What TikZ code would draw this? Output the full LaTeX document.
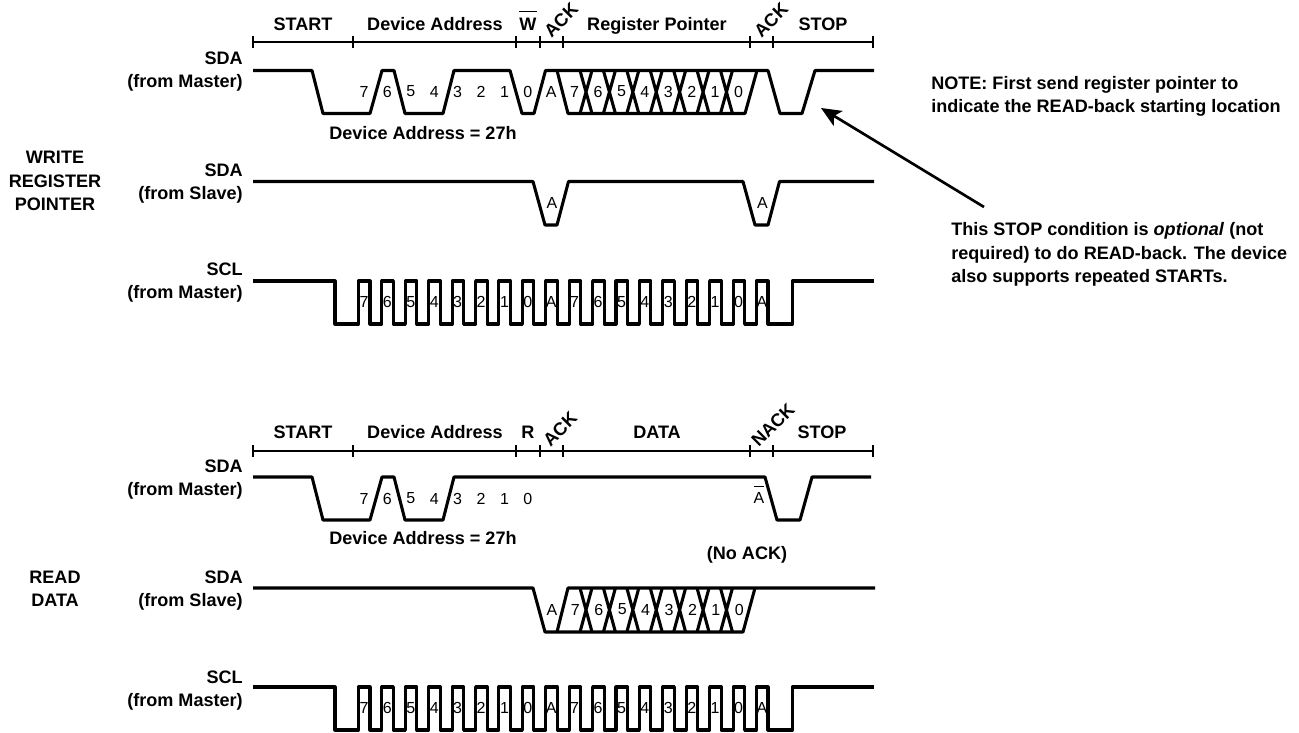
\documentclass[tikz,border=0pt]{standalone}
\usepackage{fontspec}
\setmainfont{Liberation Sans}
\usetikzlibrary{arrows.meta}
\tikzset{
  sig/.style={line width=2.3pt, line join=round},
  rule/.style={line width=1pt},
  lbl/.style={inner sep=0pt, font=\bfseries\fontsize{13.55}{17.5}\selectfont},
  fld/.style={lbl, anchor=base},
  bit/.style={inner sep=0pt, font=\fontsize{12}{14}\selectfont},
  pointer/.style={line width=2pt, -{Stealth[length=15pt,width=13pt,inset=3.5pt]}}
}
\begin{document}
\begin{tikzpicture}[x=0.75pt, y=-0.75pt]
  \useasboundingbox (0,0) rectangle (1299,732);

  % Ejes de los campos
  \foreach \y in {42,451} {
    \draw[rule] (253,\y) -- (873,\y);
    \foreach \x in {253,353,516,540,563,750,773,873}
      \draw[rule] (\x,{\y-6}) -- (\x,{\y+6});
  }

  % Campos superiores
  \node[fld] (wstart) at (303,30) {START};
  \node[fld] (waddr) at (435,30) {Device Address};
  \node[fld] (wbit) at (528,30) {$\overline{\rule{0pt}{13pt}\hbox{W}}$};
  \node[lbl, rotate=45] (wack) at (561,20) {ACK};
  \node[fld] (wreg) at (657,30) {Register Pointer};
  \node[lbl, rotate=45] (wack2) at (771,20) {ACK};
  \node[fld] (wstop) at (823,30) {STOP};

  % Campos inferiores
  \node[fld] (rstart) at (303,438) {START};
  \node[fld] (raddr) at (435,438) {Device Address};
  \node[fld] (rbit) at (528,438) {R};
  \node[lbl, rotate=45] (rack) at (560,429) {ACK};
  \node[fld] (rdata) at (657,438) {DATA};
  \node[lbl, rotate=45] (rnack) at (773,425) {NACK};
  \node[fld] (rstop) at (822,438) {STOP};

  % Nombres de las senales
  \node[lbl, anchor=east, align=right] (wmaster) at (243,71.5) {SDA\\(from Master)};
  \node[lbl, anchor=east, align=right] (wslave) at (243,183.5) {SDA\\(from Slave)};
  \node[lbl, anchor=east, align=right] (wclock) at (243,282.5) {SCL\\(from Master)};
  \node[lbl, anchor=east, align=right] (rmaster) at (243,479.5) {SDA\\(from Master)};
  \node[lbl, anchor=east, align=right] (rslave) at (243,590.5) {SDA\\(from Slave)};
  \node[lbl, anchor=east, align=right] (rclock) at (243,690.5) {SCL\\(from Master)};
  \node[lbl, align=center] (wname) at (55,181) {WRITE\\REGISTER\\POINTER};
  \node[lbl, align=center] (rname) at (55,589) {READ\\DATA};

  % SDA maestro, escritura
  \draw[sig] (253,70.5) -- (312,70.5) -- (323,113.5) -- (370,113.5) -- (382,70.5) -- (394,70.5)
    -- (405,113.5) -- (443,113.5) -- (454,70.5) -- (510,70.5) -- (522,113.5) -- (534,113.5)
    -- (545.5,70.5) -- (768,70.5) -- (780,113.5) -- (802,113.5) -- (815,70.5) -- (874,70.5);
  \draw[sig] (557,70.5) -- (568,113.5) -- (745,113.5) -- (757,70.5);

  % SDA esclavo, escritura
  \draw[sig] (253,181.5) -- (533,181.5) -- (545,225) -- (557,225) -- (568.5,181.5) -- (743,181.5)
    -- (755,225) -- (768,225) -- (779.5,181.5) -- (874,181.5);

  % SDA maestro, lectura
  \draw[sig] (253,477) -- (312,477) -- (323,520) -- (370,520) -- (382,477) -- (394,477)
    -- (405,520) -- (443,520) -- (454,477) -- (765,477) -- (777,520) -- (800,520) -- (812,477) -- (871,477);

  % SDA esclavo, lectura
  \draw[sig] (253,588) -- (533,588) -- (545,632) -- (743,632) -- (755,588);
  \draw[sig] (557,632) -- (568,588) -- (875,588);

  % Cruces de datos
  \foreach \y in {70.5,588}
    \foreach \k in {0,...,6}
      \draw[sig] ({586+23.41*\k-6},\y) -- ({586+23.41*\k+6},{\y+(\y<100?43:44)})
        ({586+23.41*\k+6},\y) -- ({586+23.41*\k-6},{\y+(\y<100?43:44)});

  % SCL
  \foreach \y in {281,687}
    \draw[sig] (253,\y) -- (335,\y) -- (335,{\y+43})
      foreach \k in {0,...,17} {
        -- ({358.5+23.41*\k},{\y+43}) -- ({358.5+23.41*\k},\y)
        -- ({370+23.41*\k},\y) -- ({370+23.41*\k},{\y+43})
      }
      -- (792.5,{\y+43}) -- (792.5,\y) -- (874,\y);

  % Bits de SCL
  \foreach \y/\n in {302/w,708/r}
    \foreach \d [count=\k from 0] in {7,6,5,4,3,2,1,0,A,7,6,5,4,3,2,1,0,A}
      \node[bit] (clk\n\k) at ({364+23.41*\k},\y) {\d};

  % Bits de SDA
  \foreach \d [count=\k from 0] in {7,6,5,4,3,2,1,0,A,7,6,5,4,3,2,1,0}
    \node[bit] (wsda\k) at ({364+23.41*\k},91.5) {\d};
  \foreach \d [count=\k from 0] in {7,6,5,4,3,2,1,0}
    \node[bit] (rsda\k) at ({364+23.41*\k},498.5) {\d};
  \foreach \d [count=\k from 0] in {A,7,6,5,4,3,2,1,0}
    \node[bit] (rslv\k) at ({552+23.41*\k},609.5) {\d};
  \node[bit] (wslva) at (552,202.5) {A};
  \node[bit] (wslvb) at (762.5,202.5) {A};
  \node[bit, anchor=base] (rnot) at (759,503) {$\overline{\rule{0pt}{11pt}\hbox{A}}$};

  % Notas
  \node[lbl] (waddrval) at (423,133) {Device Address = 27h};
  \node[lbl] (raddrval) at (423,538) {Device Address = 27h};
  \node[lbl] (noack) at (747,554.5) {(No ACK)};
  \node[lbl, anchor=west, align=left] (note) at (931,96.5) {NOTE: First send register pointer to\\indicate the READ-back starting location};
  \node[lbl, anchor=west, align=left] (optional) at (951,254.5) {This STOP condition is \textit{optional} (not\\required) to do READ-back. The device\\also supports repeated STARTs.};

  % Flecha al STOP
  \coordinate (optfoot) at (984,207);
  \coordinate (stoptip) at (821,108);
  \draw[pointer] (optfoot) -- (stoptip);
\end{tikzpicture}
\end{document}
